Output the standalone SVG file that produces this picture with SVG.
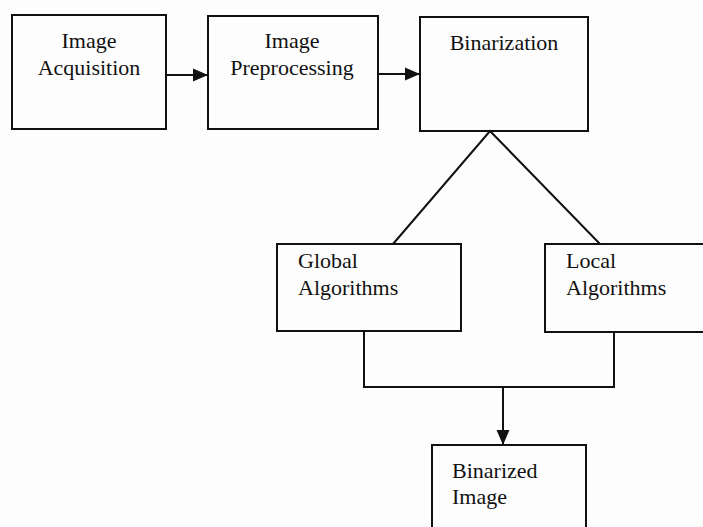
<svg xmlns="http://www.w3.org/2000/svg" width="703" height="527" viewBox="0 0 703 527">
<defs>
<marker id="arr" markerWidth="15" markerHeight="14" refX="14" refY="7" orient="auto" markerUnits="userSpaceOnUse">
<path d="M0,0.5 L15,7 L0,13.5 Z" fill="#111"/>
</marker>
<style>
.box{fill:none;stroke:#111;stroke-width:2}
.ln{fill:none;stroke:#111;stroke-width:2}
text{font-family:"Liberation Serif","Times New Roman",serif;font-size:22px;fill:#111}
.c{text-anchor:middle}
</style>
</defs>
<rect width="703" height="527" fill="#fdfdfd"/>
<g id="connectors">
<line class="ln" x1="166" y1="75" x2="207" y2="75" marker-end="url(#arr)"/>
<line class="ln" x1="378" y1="74" x2="419" y2="74" marker-end="url(#arr)"/>
<polyline class="ln" points="393,244 490,131 600,244"/>
<polyline class="ln" points="364,331 364,387 614,387 614,332"/>
<line class="ln" x1="503" y1="387" x2="503" y2="444" marker-end="url(#arr)"/>
</g>
<g id="acq">
<rect class="box" x="12" y="15" width="154" height="114"/>
<text class="c" x="89" y="48">Image</text>
<text class="c" x="89" y="75">Acquisition</text>
</g>
<g id="pre">
<rect class="box" x="208" y="16" width="170" height="113"/>
<text class="c" x="292" y="48">Image</text>
<text class="c" x="292" y="75">Preprocessing</text>
</g>
<g id="bin">
<rect class="box" x="420" y="17" width="168" height="114"/>
<text class="c" x="504" y="50">Binarization</text>
</g>
<g id="global">
<rect class="box" x="277" y="244" width="184" height="87"/>
<text x="298" y="268">Global</text>
<text x="298" y="295">Algorithms</text>
</g>
<g id="local">
<rect class="box" x="545" y="244" width="160" height="88"/>
<text x="566" y="268">Local</text>
<text x="566" y="295">Algorithms</text>
</g>
<g id="binimg">
<rect class="box" x="432" y="445" width="154" height="100"/>
<text x="452" y="478">Binarized</text>
<text x="452" y="504">Image</text>
</g>
</svg>
